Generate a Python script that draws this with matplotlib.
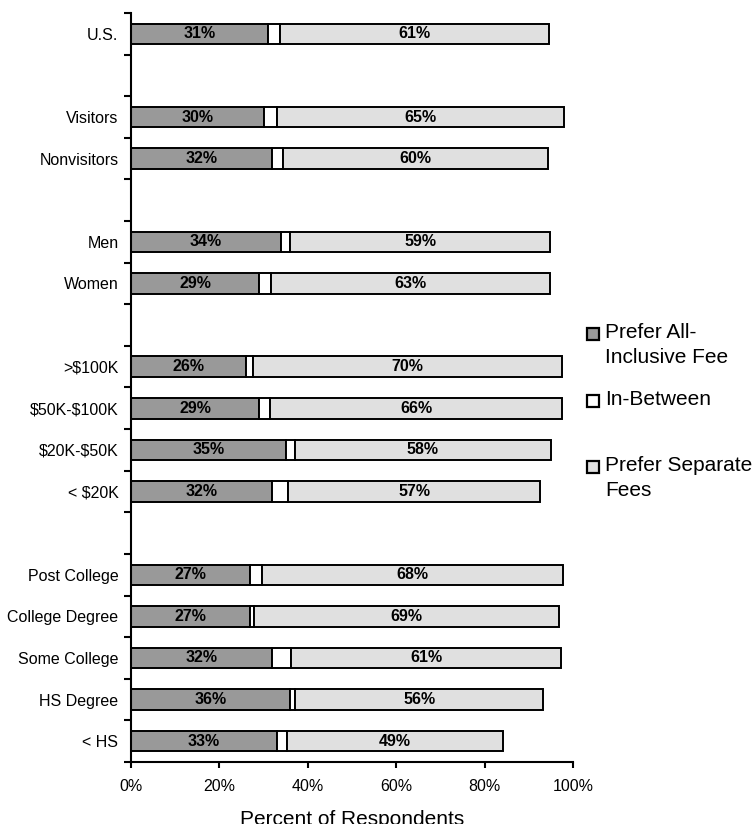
import numpy as np
import matplotlib
matplotlib.use("Agg")
import matplotlib.pyplot as plt
from matplotlib.patches import Rectangle

plt.rcParams['font.family'] = ['Liberation Sans', 'DejaVu Sans']
plt.rcParams['text.parse_math'] = False

categories = ["U.S.", "", "Visitors", "Nonvisitors", "", "Men", "Women", "",
              ">$100K", "$50K-$100K", "$20K-$50K", "< $20K", "",
              "Post College", "College Degree", "Some College", "HS Degree", "< HS"]
nan = np.nan
all_inclusive = [31, nan, 30, 32, nan, 34, 29, nan, 26, 29, 35, 32, nan, 27, 27, 32, 36, 33]
in_between = [2.6, nan, 3.0, 2.4, nan, 1.9, 2.7, nan, 1.6, 2.5, 2.0, 3.6, nan, 2.7, 0.8, 4.3, 1.2, 2.2]
separate = [61, nan, 65, 60, nan, 59, 63, nan, 70, 66, 58, 57, nan, 68, 69, 61, 56, 49]
series_names = ["Prefer All-\nInclusive Fee", "In-Between", "Prefer Separate\nFees"]
colors = ["#999999", "#ffffff", "#e0e0e0"]
xticks = [0, 20, 40, 60, 80, 100]

W, H = 756, 824
fig = plt.figure(figsize=(W / 100, H / 100), dpi=100)
ax = fig.add_axes([131 / W, 1 - 762 / H, (573 - 131) / W, (762 - 13) / H])

n = len(categories)
y = np.arange(n)
a = np.array(all_inclusive, dtype=float)
b = np.array(in_between, dtype=float)
c = np.array(separate, dtype=float)
mask = ~np.isnan(a)

h = 0.49
ax.barh(y[mask], a[mask], height=h, color=colors[0], edgecolor="black", linewidth=1.4)
ax.barh(y[mask], b[mask], left=a[mask], height=h, color=colors[1], edgecolor="black", linewidth=1.4)
ax.barh(y[mask], c[mask], left=a[mask] + b[mask], height=h, color=colors[2], edgecolor="black", linewidth=1.4)

for yi, ai, bi, ci in zip(y[mask], a[mask], b[mask], c[mask]):
    ax.text(ai / 2, yi, f"{ai:.0f}%", ha="center", va="center", fontsize=11.5, fontweight="bold")
    ax.text(ai + bi + ci / 2, yi, f"{ci:.0f}%", ha="center", va="center", fontsize=11.5, fontweight="bold")

ax.set_xlim(0, 100)
ax.set_ylim(n - 0.5, -0.5)
ax.set_xticks(xticks)
ax.set_xticklabels([f"{t}%" for t in xticks], fontsize=11.5)
ax.set_yticks(np.arange(-0.5, n, 1.0))
ax.set_yticklabels([])
lab_pos = [i for i in range(n) if categories[i]]
ax.set_yticks(lab_pos, minor=True)
ax.set_yticklabels([categories[i] for i in lab_pos], minor=True, fontsize=11.5)
ax.tick_params(axis="y", which="major", length=5, width=1.5, direction="out")
ax.tick_params(axis="y", which="minor", length=0, pad=9)
ax.tick_params(axis="x", length=4, width=1.5, direction="out", pad=8)
for s in ["top", "right"]:
    ax.spines[s].set_visible(False)
for s in ["left", "bottom"]:
    ax.spines[s].set_linewidth(1.5)
ax.set_xlabel("Percent of Respondents", fontsize=15, labelpad=12)

# legend
leg_y = [334, 401, 467]
for name, col, ly in zip(series_names, colors, leg_y):
    fig.patches.append(Rectangle((587 / W, 1 - (ly + 6) / H), 12 / W, 12 / H,
                                 transform=fig.transFigure, facecolor=col,
                                 edgecolor="black", linewidth=1.6))
    fig.text(605 / W, 1 - (ly - 11) / H, name, ha="left", va="top", fontsize=15, linespacing=1.37)

fig.savefig("out.png", dpi=100)
